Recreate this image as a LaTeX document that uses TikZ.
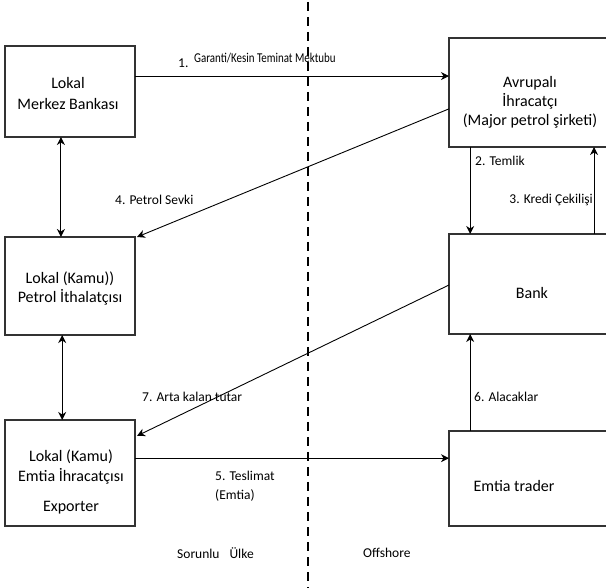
\documentclass[tikz,border=0pt]{standalone}
\usepackage{fontspec}
\usepackage{graphicx}
\setmainfont{Carlito}
\usetikzlibrary{arrows.meta,calc}

\tikzset{
  box/.style={draw=black!80, line width=1.1pt, rectangle, inner sep=0pt, outer sep=0pt},
  boxtext/.style={inner sep=0pt, align=center, font=\fontsize{16}{20}\selectfont},
  lbl/.style={inner sep=0pt, anchor=west, font=\fontsize{13.5}{16}\selectfont},
  flow/.style={line width=0.9pt, -{Stealth[length=8pt,width=8pt,inset=2.5pt]}},
  twoway/.style={line width=1.1pt, {Stealth[length=8pt,width=8pt,inset=2.5pt]}-{Stealth[length=8pt,width=8pt,inset=2.5pt]}},
  border/.style={line width=2.2pt, dash pattern=on 9pt off 6pt}
}

\begin{document}
\begin{tikzpicture}[x=1pt, y=-1pt]
  \useasboundingbox (0,0) rectangle (606,588);
  \clip (0,0) rectangle (606,588);

  % boxes on the local side
  \node[box, minimum width=130pt, minimum height=91pt]  (lmb) at (70,91.5) {};
  \node[box, minimum width=130pt, minimum height=98pt]  (lpi) at (70,286) {};
  \node[box, minimum width=130pt, minimum height=106pt] (lei) at (70,473) {};

  % boxes on the offshore side
  \node[box, minimum width=163pt, minimum height=109pt] (avr)    at (530.5,92.5) {};
  \node[box, minimum width=163pt, minimum height=100pt] (bank)   at (530.5,284) {};
  \node[box, minimum width=163pt, minimum height=95pt]  (trader) at (530.5,478.5) {};

  % box contents
  \node[boxtext, font=\fontsize{16}{21}\selectfont] (lmbT) at (68,94) {Lokal\\Merkez Bankası};
  \node[boxtext, font=\fontsize{16}{19.5}\selectfont] (lpiT) at (70,288.5) {Lokal (Kamu))\\Petrol İthalatçısı};
  \node[boxtext, font=\fontsize{16}{20}\selectfont] (leiT) at (71,482) {Lokal (Kamu)\\Emtia İhracatçısı\\[10pt]Exporter};
  \node[boxtext, font=\fontsize{16}{19}\selectfont] (avrT) at (530,102) {Avrupalı\\İhracatçı\\(Major petrol şirketi)};
  \node[boxtext] (bankT) at (532,293) {Bank};
  \node[boxtext] (traderT) at (514,486) {Emtia trader};

  % country border
  \coordinate (divTop) at (308,2);
  \coordinate (divBot) at (308,588);

  % 1. letter of guarantee
  \coordinate (p1) at ($(lmb.north east)!0.33!(lmb.south east)$);
  \draw[flow] (p1) -- (p1 -| avr.west);
  \node[lbl] (l1a) at (178,63) {1.};
  \node[lbl] (l1b) at (194,58) {\scalebox{0.81}[1]{Garanti/Kesin Teminat Mektubu}};

  % 4. oil shipment
  \draw[flow] ($(avr.north west)!0.65!(avr.south west)$) -- ([xshift=2pt]lpi.north east);
  \node[lbl] (l4) at (115,200) {4. Petrol Sevki};

  % 7. remaining amount
  \draw[flow] ($(bank.north west)!0.51!(bank.south west)$) -- ([xshift=2pt]$(lei.north east)!0.15!(lei.south east)$);
  \node[lbl] (l7) at (142,397) {7. Arta kalan tutar};

  % 5. delivery
  \coordinate (p5) at ($(lei.north east)!0.36!(lei.south east)$);
  \draw[flow] (p5) -- (p5 -| trader.west);
  \node[lbl] (l5a) at (215,476) {5. Teslimat};
  \node[lbl] (l5b) at (215,495) {(Emtia)};

  % local two-way links
  \coordinate (pa) at ($(lmb.south west)!0.43!(lmb.south east)$);
  \draw[twoway] (pa) -- (pa |- lpi.north);
  \coordinate (pb) at ($(lpi.south west)!0.44!(lpi.south east)$);
  \draw[twoway] (pb) -- (pb |- lei.north);

  % 2. assignment
  \coordinate (p2) at ($(avr.south west)!0.13!(avr.south east)$);
  \draw[flow] (p2) -- (p2 |- bank.north);
  \node[lbl] (l2) at (475,161) {2. Temlik};

  % 3. loan drawdown
  \coordinate (p3) at ($(bank.north west)!0.89!(bank.north east)$);
  \draw[flow] (p3) -- (p3 |- avr.south);
  \node[lbl, anchor=east] (l3) at (593,200) {3. Kredi Çekilişi};

  % 6. receivables
  \coordinate (p6) at ($(trader.north west)!0.13!(trader.north east)$);
  \draw[flow] (p6) -- (p6 |- bank.south);
  \node[lbl] (l6) at (474,397) {6. Alacaklar};

  % region names
  \node[lbl] (south) at (177,553) {Sorunlu\hspace{10pt}Ülke};
  \node[lbl] (off) at (363,553) {Offshore};

  \draw[border] (divTop) -- (divBot);
\end{tikzpicture}
\end{document}
